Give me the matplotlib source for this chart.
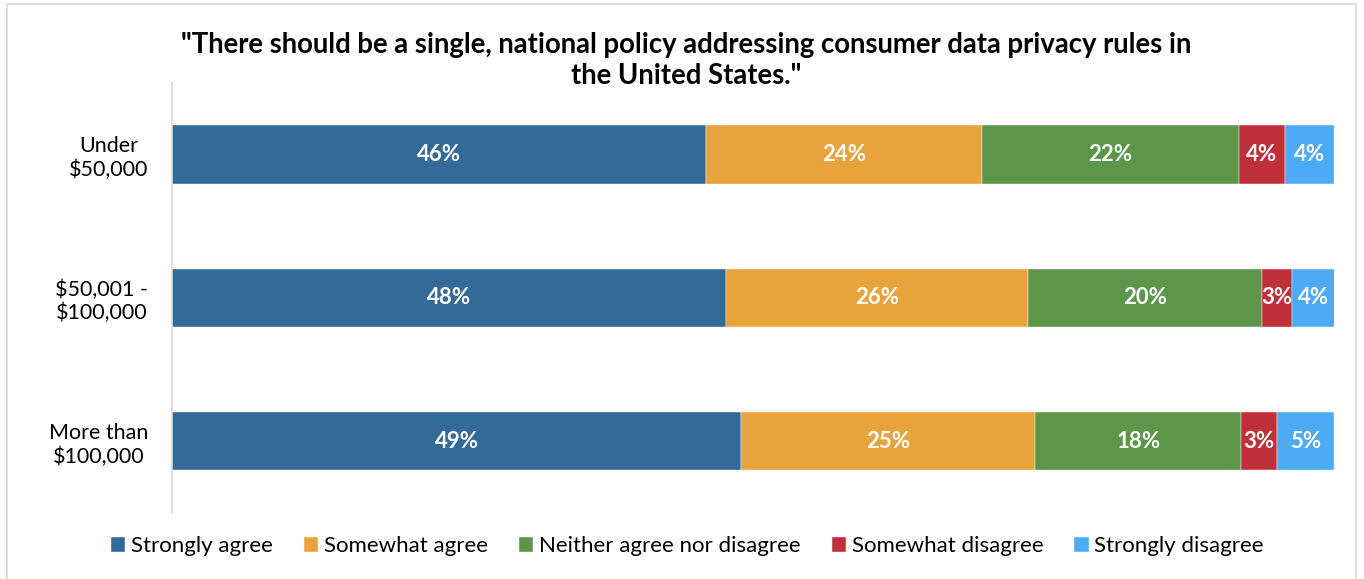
import matplotlib.pyplot as plt
import numpy as np
from matplotlib.patches import Rectangle

plt.rcParams['font.family'] = ['Lato', 'DejaVu Sans']

# ===== データ =====
groups = ["Under\n$50,000", "$50,001 -\n$100,000", "More than\n$100,000"]
responses = ["Strongly agree", "Somewhat agree", "Neither agree nor disagree",
             "Somewhat disagree", "Strongly disagree"]
strongly_agree = [46.0, 47.7, 49.0]
somewhat_agree = [23.7, 26.0, 25.3]
neither = [22.1, 20.1, 17.7]
somewhat_disagree = [4.0, 2.6, 3.1]
strongly_disagree = [4.2, 3.7, 4.9]
colors = ["#336A97", "#E8A33D", "#5C9649", "#C0303A", "#4DAAF5"]

series = [strongly_agree, somewhat_agree, neither, somewhat_disagree, strongly_disagree]

fig = plt.figure(figsize=(13.64, 5.79), dpi=100)
ax = fig.add_axes([0.126, 0.114, 0.852, 0.743])

# ===== 積み上げ横棒 =====
y = np.arange(len(groups))
left = np.zeros(len(groups))
for name, vals, c in zip(responses, series, colors):
    vals = np.array(vals)
    bars = ax.barh(y, vals, left=left, height=0.405, color=c, label=name,
                   edgecolor="white", linewidth=0.3)
    for b, v in zip(bars, vals):
        ax.text(b.get_x() + b.get_width() / 2, b.get_y() + b.get_height() / 2,
                f"{round(v)}%", ha="center", va="center", color="white",
                fontsize=16, fontweight="bold")
    left += vals

ax.set_xlim(0, 100)
ax.set_ylim(2.5, -0.5)
ax.set_yticks(y)
ax.set_yticklabels(groups, fontsize=15.5, multialignment="center")
ax.tick_params(axis="y", length=0, pad=17)
ax.set_xticks([])
for s in ["top", "right", "bottom"]:
    ax.spines[s].set_visible(False)
ax.spines["left"].set_color("#d9d9d9")
ax.spines["left"].set_linewidth(1.2)

# ===== タイトル =====
fig.text(0.503, 0.895,
         "\"There should be a single, national policy addressing consumer data privacy rules in\nthe United States.\"",
         ha="center", va="center", fontsize=19.8, fontweight="bold",
         linespacing=1.25)

# ===== 凡例 =====
fig.legend(loc="center", bbox_to_anchor=(0.504, 0.057), ncol=5, frameon=False,
           fontsize=16, handlelength=0.65, handleheight=0.65,
           handletextpad=0.25, columnspacing=1.4)

# ===== 枠 =====
fig.patches.append(Rectangle((0.005, -0.01), 0.989, 1.003, transform=fig.transFigure,
                             fill=False, edgecolor="#d9d9d9", linewidth=1.2))

plt.savefig("out.png", dpi=100)
plt.close()
